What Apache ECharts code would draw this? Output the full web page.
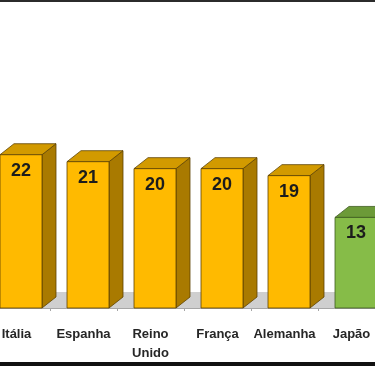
<!DOCTYPE html>
<html>
<head>
<meta charset="utf-8">
<script src="https://cdn.jsdelivr.net/npm/echarts@6/dist/echarts.min.js"></script>
<style>
  html, body { margin: 0; padding: 0; background: #fff; }
  #chart { width: 375px; height: 366px; }
</style>
</head>
<body>
<div id="chart"></div>
<script>
var categories = ['Itália', 'Espanha', 'Reino\nUnido', 'França', 'Alemanha', 'Japão'];
var values = [22, 21, 20, 20, 19, 13];

var chart = echarts.init(document.getElementById('chart'));

// depth of the fake 3d box
var DX = 14, DY = 11, BAR_W = 42;

function barColors(name) {
    if (name === 'Japão') {
        return { front: '#86BC48', top: '#6C9A38', side: '#557D2B', stroke: '#3E5C1E' };
    }
    return { front: '#FFBA00', top: '#D29A00', side: '#A97A00', stroke: '#5E4300' };
}

function renderFloor(params, api) {
    var base = api.coord([api.value(0), 0]);
    var band = api.size([1, 0])[0];
    return {
        type: 'rect',
        shape: { x: base[0] - band / 2, y: base[1] - 16, width: band + 1, height: 16 },
        style: { fill: '#CFCFCF' },
        silent: true
    };
}

function renderBar(params, api) {
    var idx = api.value(0);
    var val = api.value(1);
    var top = api.coord([idx, val]);
    var base = api.coord([idx, 0]);
    var x = top[0] - 16.5;
    var yt = top[1], yb = base[1];
    var c = barColors(categories[idx]);
    return {
        type: 'group',
        children: [
            {
                type: 'polygon',
                shape: { points: [[x + BAR_W, yt], [x + BAR_W + DX, yt - DY], [x + BAR_W + DX, yb - DY], [x + BAR_W, yb]] },
                style: { fill: c.side, stroke: c.stroke, lineWidth: 0.8 }
            },
            {
                type: 'polygon',
                shape: { points: [[x, yt], [x + DX, yt - DY], [x + BAR_W + DX, yt - DY], [x + BAR_W, yt]] },
                style: { fill: c.top, stroke: c.stroke, lineWidth: 0.8 }
            },
            {
                type: 'rect',
                shape: { x: x, y: yt, width: BAR_W, height: yb - yt },
                style: { fill: c.front, stroke: c.stroke, lineWidth: 0.8 }
            },
            {
                type: 'text',
                x: x + BAR_W / 2,
                y: yt + 16,
                style: {
                    text: String(val),
                    fill: '#1C1C1C',
                    font: 'bold 18px "Liberation Sans", sans-serif',
                    align: 'center',
                    verticalAlign: 'middle'
                }
            }
        ]
    };
}

var option = {
    animation: false,
    grid: {
        left: -17,
        width: 402,
        top: 99,
        height: 209,
        containLabel: false,
        outerBoundsMode: 'none'
    },
    xAxis: {
        type: 'category',
        data: categories,
        axisLine: { lineStyle: { color: '#A6A6A6', width: 1 } },
        axisTick: { show: true, length: 3, lineStyle: { color: '#A6A6A6' } },
        axisLabel: {
            margin: 17,
            color: '#262626',
            fontSize: 13,
            fontWeight: 'bold',
            fontFamily: '"Liberation Sans", sans-serif',
            lineHeight: 19,
            interval: 0,
            hideOverlap: false
        }
    },
    yAxis: {
        type: 'value',
        min: 0,
        max: 30,
        show: false
    },
    series: [
        {
            type: 'custom',
            z: 1,
            renderItem: renderFloor,
            data: values.map(function (v, i) { return [i, v]; })
        },
        {
            type: 'custom',
            z: 2,
            renderItem: renderBar,
            data: values.map(function (v, i) { return [i, v]; })
        }
    ],
    graphic: [
        { type: 'rect', left: 0, top: 0, shape: { width: 375, height: 2 }, style: { fill: '#2B2B2B' } },
        { type: 'rect', left: 0, top: 362, shape: { width: 375, height: 4 }, style: { fill: '#111' } }
    ]
};

chart.setOption(option);
</script>
</body>
</html>
